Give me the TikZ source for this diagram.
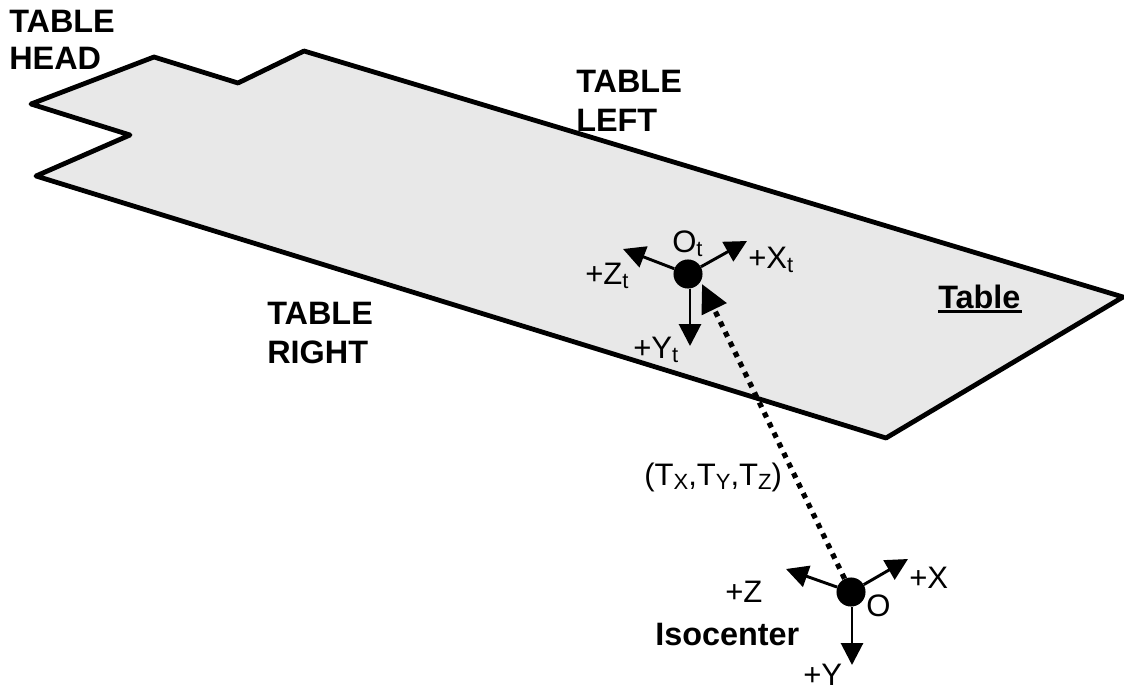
\documentclass[tikz,border=0pt]{standalone}
\usepackage{fontspec}
\setmainfont{Liberation Sans}
\usepackage{tikz}
\usetikzlibrary{arrows.meta, positioning}
\newcommand{\subtxt}[1]{\raisebox{-0.28ex}{\fontsize{16.5}{16.5}\selectfont #1}}

\begin{document}
\begin{tikzpicture}[
    x=0.75pt, y=-0.75pt,
    tabletop/.style={draw=black, fill=black!9, line width=3.6pt, line join=round},
    dotnode/.style={circle, fill=black, inner sep=0pt, minimum size=21.8pt},
    axis/.style={-{Triangle[length=16.5pt, width=16.5pt]}, line width=2.2pt},
    offset/.style={-{Triangle[length=21pt, width=20pt]}, line width=3.9pt, dash pattern=on 4pt off 4.4pt},
    lbl/.style={inner sep=0pt, anchor=base west, font=\fontsize{23.3}{27}\selectfont},
    boldlbl/.style={inner sep=0pt, anchor=base west, align=left, font=\fontsize{24.3}{28.6}\selectfont\bfseries},
]
\useasboundingbox (0,0) rectangle (1124,689);

% === Table outline ===
\draw[tabletop] (31,104) -- (154,57) -- (238,83) -- (304,51) -- (1123,297)
    -- (886,438) -- (36,176) -- (130,135) -- cycle;

% === Origins ===
\node[dotnode] (ot) at (688,274) {};
\node[dotnode] (o) at (851,592) {};

% === Table axes ===
\coordinate (xttip) at (747,241);
\coordinate (zttip) at (623,249);
\coordinate (yttip) at (690,346);
\draw[axis] (ot) -- (xttip);
\draw[axis] (ot) -- (zttip);
\draw[axis] (ot.south -| yttip) -- (yttip);

% === Isocenter axes ===
\coordinate (xtip) at (908,559);
\coordinate (ztip) at (786,569);
\coordinate (ytip) at (852,665);
\draw[axis] (o) -- (xtip);
\draw[axis] (o) -- (ztip);
\draw[axis] (o.south -| ytip) -- (ytip);

% === Translation vector ===
\coordinate (vectip) at (702,284);
\draw[offset] (o) -- (vectip);

% === Side labels ===
\node[boldlbl] (head) at (9,69) {TABLE\\[-1.5pt]HEAD};
\node[boldlbl] (left) at (576,131) {TABLE\\LEFT};
\node[boldlbl] (right) at (267,363) {TABLE\\RIGHT};
\node[boldlbl] (tablelbl) at (938,308) {\rlap{\rule[-3.8pt]{63pt}{2.6pt}}Table};
\node[boldlbl] (iso) at (655,645) {Isocenter};

% === Axis labels ===
\node[lbl] (otlbl) at (672,252) {O\subtxt{t}};
\node[lbl] (xtlbl) at (748,268) {+X\subtxt{t}};
\node[lbl] (ztlbl) at (585,284) {+Z\subtxt{t}};
\node[lbl] (ytlbl) at (633,358) {+Y\subtxt{t}};
\node[lbl] (vec) at (644,485) {(T\subtxt{X},T\subtxt{Y},T\subtxt{Z})};
\node[lbl] (xlbl) at (909,588) {+X};
\node[lbl] (zlbl) at (725,602) {+Z};
\node[lbl] (ylbl) at (803,685) {+Y};
\node[lbl] (olbl) at (866,616) {O};

\end{tikzpicture}
\end{document}
